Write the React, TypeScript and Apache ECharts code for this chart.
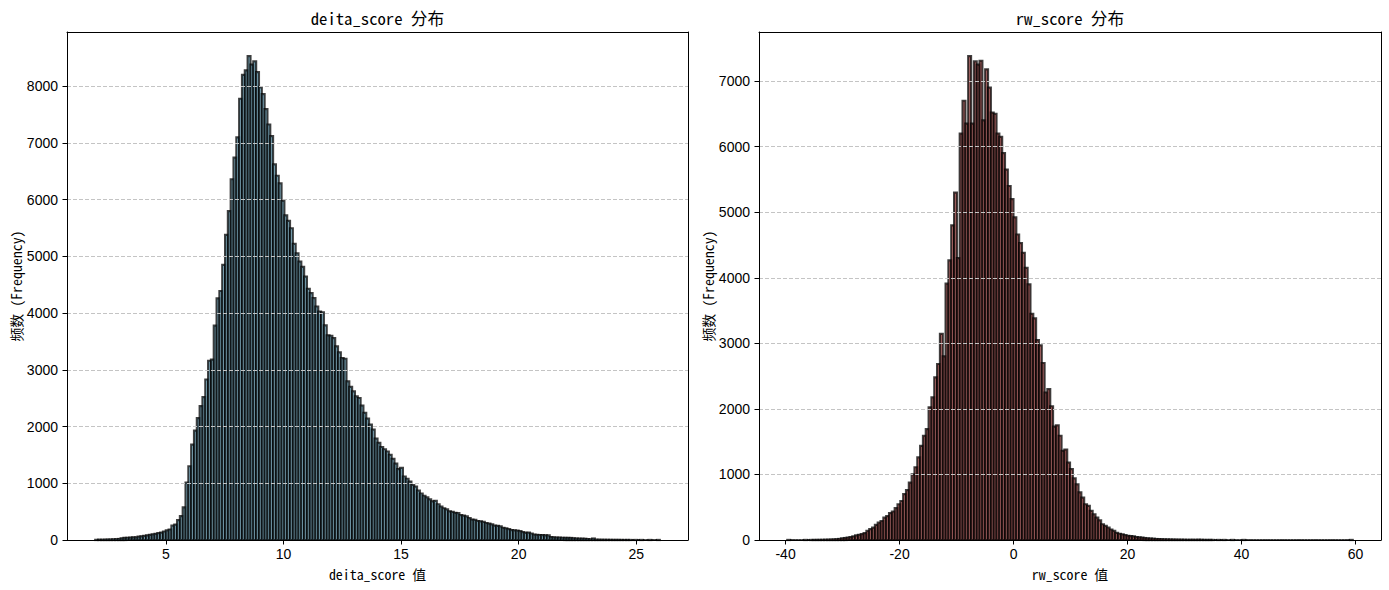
import { useEffect, useRef } from "react";
import * as echarts from "echarts";

// deita_score histogram: 200 equal bins between DEITA_MIN and DEITA_MAX
const DEITA_MIN = 2.0;
const DEITA_MAX = 26.0;
const DEITA_COUNTS = [
  3, 5, 4, 6, 8, 9, 12, 14, 18,
  30, 38, 40, 42, 45, 48, 58, 63, 72,
  80, 92, 100, 108, 120, 130, 150, 168, 185,
  255, 270, 350, 420, 575, 1010, 1300,
  1680, 1930, 2150, 2360, 2520, 2830, 3160, 3180, 3780, 4260, 4390, 4850, 5380, 5800, 6360, 6740, 7100, 7780, 8200, 8280, 8530,
  8380, 8440, 8250, 7980, 7860, 7595, 7326, 7120, 6622, 6422,
  6287, 5977, 5724, 5625, 5496, 5220, 5056, 4909, 4815, 4645,
  4428, 4352, 4264, 4117, 4029, 4012, 3783, 3607, 3601, 3560,
  3413, 3308, 3208, 3196, 2798, 2698, 2622, 2534, 2504, 2370,
  2240, 2141, 2035, 1947, 1789, 1713, 1640, 1600, 1560, 1500,
  1430, 1345, 1250, 1270, 1120, 1080, 1030, 970, 940, 870,
  820, 780, 750, 715, 680, 690, 630, 590, 560, 540,
  505, 495, 480, 475, 440, 430, 415, 385, 360, 355,
  335, 330, 320, 300, 290, 275, 255, 250, 240, 215,
  205, 190, 175, 170, 165, 155, 140, 125, 130, 115,
  95, 90, 88, 85, 83, 80, 50, 45, 42, 42,
  40, 38, 37, 36, 30, 26, 24, 23, 22, 16,
  12, 26, 6, 5, 4, 4, 3, 3, 2, 2,
  2, 1, 1, 1, 1, 0, 1, 0, 1, 0,
  0, 1, 0, 0, 1,
];

// rw_score histogram: 200 equal bins between RW_MIN and RW_MAX
const RW_MIN = -39.7;
const RW_MAX = 59.5;
const RW_COUNTS = [
  1, 0, 0, 0, 0, 0, 1, 0, 1, 1, 2, 2, 3, 4, 5, 7, 9, 12,
  16, 25, 30, 38, 45, 55, 70, 80, 90, 105,
  140, 165, 190, 230, 265, 290, 340, 365, 410, 435,
  485, 545, 595, 700, 760, 875, 1000, 1110, 1260, 1435,
  1590, 1690, 2025, 2175, 2480, 2685, 3145, 2800, 3910, 4265,
  4800, 5300, 4300, 6200, 6700, 6350, 7380, 6350, 7300, 7250,
  7310, 6400, 7180, 6900, 6520, 6500, 6200, 6150, 5900, 5650,
  5400, 5200, 4920, 4660, 4530, 4380, 4150, 3900, 3450, 3380,
  3050, 2970, 2700, 2250, 2300, 2040, 1730, 1750, 1590, 1360,
  1380, 1180, 1080, 940, 850, 725, 645, 545, 520, 445,
  390, 340, 300, 240, 215, 190, 160, 140, 110, 95,
  85, 75, 65, 60, 55, 45, 40, 35, 30, 25,
  22, 20, 15, 14, 12, 10, 9, 8, 7, 6,
  5, 5, 4, 3, 3, 4, 2, 5, 3, 2,
  1, 2, 1, 0, 1, 0, 1, 0, 0, 1,
  0, 0, 0, 1, 0, 0, 0, 0, 0, 0,
  0, 0, 0, 0, 0, 0, 0, 0, 0, 0,
  0, 0, 0, 0, 0, 0, 0, 0, 0, 0,
  0, 0, 0, 0, 0, 0, 0, 0, 0, 0,
  0, 1,
];

const DEITA_X_TICKS = [5, 10, 15, 20, 25];
const RW_X_TICKS = [-40, -20, 0, 20, 40, 60];
const DEITA_Y_TICKS = [0, 1000, 2000, 3000, 4000, 5000, 6000, 7000, 8000];
const RW_Y_TICKS = [0, 1000, 2000, 3000, 4000, 5000, 6000, 7000];

const MONO_FONT =
  '"Noto Sans Mono CJK SC", "DejaVu Sans Mono", "Noto Sans CJK SC", monospace';
const TICK_FONT = '"Liberation Sans Narrow", "Liberation Sans", sans-serif';

type Panel = {
  title: string;
  xName: string;
  min: number;
  max: number;
  counts: number[];
  xTicks: number[];
  yTicks: number[];
  fill: string;
  left: number;
  width: number;
};

const PANELS: Panel[] = [
  {
    title: "deita_score 分布",
    xName: "deita_score 值",
    min: DEITA_MIN,
    max: DEITA_MAX,
    counts: DEITA_COUNTS,
    xTicks: DEITA_X_TICKS,
    yTicks: DEITA_Y_TICKS,
    fill: "#87CEEB",
    left: 67,
    width: 621,
  },
  {
    title: "rw_score 分布",
    xName: "rw_score 值",
    min: RW_MIN,
    max: RW_MAX,
    counts: RW_COUNTS,
    xTicks: RW_X_TICKS,
    yTicks: RW_Y_TICKS,
    fill: "#C85A58",
    left: 759,
    width: 622,
  },
];

const GRID_TOP = 32;
const GRID_HEIGHT = 508;

function toBins(min: number, max: number, counts: number[]) {
  const w = (max - min) / counts.length;
  return counts.map((c, i) => [min + i * w, min + (i + 1) * w, c]);
}

function buildOption() {
  const grid: any[] = [];
  const xAxis: any[] = [];
  const yAxis: any[] = [];
  const series: any[] = [];
  const graphic: any[] = [];
  const black = { color: "#000", width: 1 };

  PANELS.forEach((p, k) => {
    const pad = (p.max - p.min) * 0.05;
    const yMax = Math.max(...p.counts) * 1.05;
    grid.push({ left: p.left, top: GRID_TOP, width: p.width, height: GRID_HEIGHT });

    xAxis.push({
      gridIndex: k,
      type: "value",
      min: p.min - pad,
      max: p.max + pad,
      position: "bottom",
      z: 4,
      axisLine: { show: true, onZero: false, lineStyle: black },
      axisTick: { show: true, customValues: p.xTicks, length: 4.5, lineStyle: black },
      axisLabel: {
        customValues: p.xTicks,
        margin: 7,
        color: "#000",
        fontFamily: TICK_FONT,
        fontSize: 14,
      },
      splitLine: { show: false },
      name: p.xName,
      nameLocation: "middle",
      nameGap: 27,
      nameTextStyle: { color: "#000", fontFamily: MONO_FONT, fontSize: 13.9 },
    });
    xAxis.push({
      gridIndex: k,
      type: "value",
      min: 0,
      max: 1,
      position: "top",
      z: 4,
      axisLine: { show: true, onZero: false, lineStyle: black },
      axisTick: { show: false },
      axisLabel: { show: false },
      splitLine: { show: false },
    });

    yAxis.push({
      gridIndex: k,
      type: "value",
      min: 0,
      max: yMax,
      interval: 1000,
      position: "left",
      z: 3,
      axisLine: { show: true, onZero: false, lineStyle: black },
      axisTick: { show: true, customValues: p.yTicks, length: 4.5, lineStyle: black },
      axisLabel: {
        customValues: p.yTicks,
        margin: 9,
        color: "#000",
        fontFamily: TICK_FONT,
        fontSize: 14,
        formatter: (v: number) => String(v),
      },
      splitLine: {
        show: true,
        lineStyle: { color: "#c4c4c4", width: 1, type: [4, 2] },
      },
      name: "频数 (Frequency)",
      nameLocation: "middle",
      nameGap: 43,
      nameRotate: 90,
      nameTextStyle: { color: "#000", fontFamily: MONO_FONT, fontSize: 13.9 },
    });
    yAxis.push({
      gridIndex: k,
      type: "value",
      min: 0,
      max: 1,
      position: "right",
      z: 4,
      axisLine: { show: true, onZero: false, lineStyle: black },
      axisTick: { show: false },
      axisLabel: { show: false },
      splitLine: { show: false },
    });

    series.push({
      type: "custom",
      xAxisIndex: k * 2,
      yAxisIndex: k * 2,
      data: toBins(p.min, p.max, p.counts),
      encode: { x: [0, 1], y: 2 },
      renderItem: (_params: any, api: any) => {
        const p0 = api.coord([api.value(0), api.value(2)]);
        const p1 = api.coord([api.value(1), 0]);
        return {
          type: "rect",
          shape: { x: p0[0], y: p0[1], width: p1[0] - p0[0], height: p1[1] - p0[1] },
          style: { fill: p.fill, stroke: "#000", lineWidth: 2.2, opacity: 0.75 },
        };
      },
    });

    graphic.push({
      type: "text",
      x: p.left + p.width / 2,
      y: 18,
      style: {
        text: p.title,
        textAlign: "center",
        textVerticalAlign: "middle",
        fill: "#000",
        font: `16.7px ${MONO_FONT}`,
      },
    });
  });

  return { animation: false, backgroundColor: "#fff", grid, xAxis, yAxis, series, graphic };
}

export default function App() {
  const ref = useRef<HTMLDivElement>(null);

  useEffect(() => {
    if (!ref.current) return;
    const chart = echarts.init(ref.current, undefined, { renderer: "svg" });
    chart.setOption(buildOption());
    return () => chart.dispose();
  }, []);

  return (
    <div
      ref={ref}
      style={{ position: "fixed", left: 0, top: 0, width: 1389, height: 590, background: "#fff" }}
    />
  );
}
